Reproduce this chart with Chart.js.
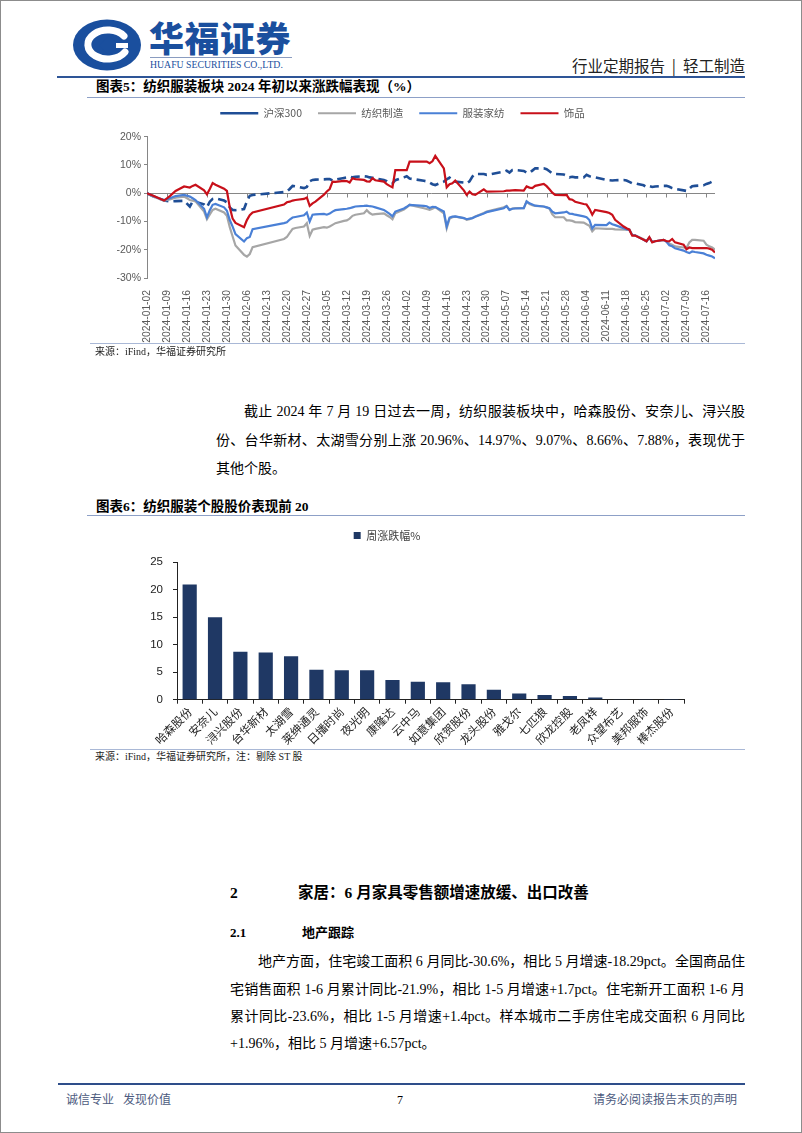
<!DOCTYPE html>
<html><head><meta charset="utf-8">
<script src="https://cdn.jsdelivr.net/npm/chart.js@4.4.1/dist/chart.umd.min.js"></script>
<style>
html,body{margin:0;padding:0;background:#fff;}
body{width:802px;height:1133px;position:relative;overflow:hidden;font-family:'Liberation Serif','Noto Sans CJK SC',serif;color:#000;}
.abs{position:absolute;white-space:nowrap;}
.hl{position:absolute;}
.jl{position:absolute;white-space:nowrap;text-align:justify;text-align-last:justify;font-size:14px;line-height:16px;height:16px;overflow:visible;}
.ll{position:absolute;white-space:nowrap;font-size:14px;line-height:16px;}
.title{font-family:'Liberation Serif','Noto Sans CJK SC';font-weight:700;font-size:13.5px;line-height:16px;}
.src{font-size:10px;line-height:12px;color:#222;}
</style></head>
<body>
<div class="hl" style="left:0;top:0;width:802px;height:1133px;box-sizing:border-box;border:1px solid #8c8c8c;"></div>

<!-- header -->
<svg class="abs" style="left:72px;top:19px" width="70" height="52" viewBox="0 0 70 52">
  <ellipse cx="35" cy="26" rx="34" ry="25.5" fill="#1a4f9e"/>
  <path d="M52,17 A20,14.5 0 1 0 53,33" fill="none" stroke="#fff" stroke-width="7" stroke-linecap="round"/>
  <polygon points="37,17 47,26.5 37,36 27,26.5" fill="#1a4f9e"/>
  <rect x="44" y="24" width="12" height="5" fill="#fff"/>
</svg>
<div class="abs" style="left:149px;top:16px;font-family:'Noto Sans CJK SC';font-weight:900;font-size:35px;line-height:42px;color:#1a4f9e;letter-spacing:0.5px;">华福证券</div>
<div class="hl" style="left:150px;top:57px;width:142px;height:1px;background:#8a9cc0;"></div>
<div class="abs" style="left:150px;top:59px;font-family:'Liberation Serif';font-size:10.5px;line-height:12px;color:#1a4f9e;transform:scaleX(0.93);transform-origin:left;">HUAFU SECURITIES CO.,LTD.</div>
<div class="abs" style="right:57px;top:55px;font-family:'Noto Sans CJK SC';font-size:15.5px;line-height:20px;color:#222;">行业定期报告&nbsp;&nbsp;|&nbsp;&nbsp;轻工制造</div>
<div class="hl" style="left:57px;top:75.5px;width:688px;height:2.5px;background:#2e5597;"></div>

<!-- chart 1 -->
<div class="abs title" style="left:96px;top:79px;">图表5：纺织服装板块 2024 年初以来涨跌幅表现（%）</div>
<div class="hl" style="left:87px;top:96.5px;width:658px;height:1px;background:#8da0c7;"></div>
<div class="hl" style="left:90px;top:92px;width:655px;height:252px;"><canvas id="c1"></canvas></div>
<div class="hl" style="left:90px;top:342.5px;width:655px;height:1.5px;background:#a9b8d6;"></div>
<div class="abs src" style="left:95px;top:346px;">来源：iFind，华福证券研究所</div>

<!-- paragraph 1 -->
<div class="jl" style="left:244px;top:404px;width:501px;">截止 2024 年 7 月 19 日过去一周，纺织服装板块中，哈森股份、安奈儿、浔兴股</div>
<div class="jl" style="left:216px;top:433px;width:529px;">份、台华新材、太湖雪分别上涨 20.96%、14.97%、9.07%、8.66%、7.88%，表现优于</div>
<div class="ll" style="left:216px;top:461px;">其他个股。</div>

<!-- chart 2 -->
<div class="abs title" style="left:96px;top:499px;">图表6：纺织服装个股股价表现前 20</div>
<div class="hl" style="left:87px;top:515px;width:658px;height:1px;background:#8da0c7;"></div>
<div class="hl" style="left:90px;top:520px;width:655px;height:228px;"><canvas id="c2"></canvas></div>
<div class="hl" style="left:90px;top:748.5px;width:655px;height:1.5px;background:#a9b8d6;"></div>
<div class="abs src" style="left:95px;top:751px;">来源：iFind，华福证券研究所，注：剔除 ST 股</div>

<!-- section 2 -->
<div class="abs" style="left:230px;top:884px;font-weight:700;font-size:15.5px;line-height:18px;">2</div>
<div class="abs" style="left:298px;top:884px;font-family:'Liberation Serif','Noto Sans CJK SC';font-weight:700;font-size:15.5px;line-height:18px;">家居：6 月家具零售额增速放缓、出口改善</div>
<div class="abs" style="left:230px;top:925px;font-weight:700;font-size:13px;line-height:16px;">2.1</div>
<div class="abs" style="left:302px;top:925px;font-family:'Liberation Serif','Noto Sans CJK SC';font-weight:700;font-size:13px;line-height:16px;">地产跟踪</div>

<div class="jl" style="left:258px;top:954px;width:487px;">地产方面，住宅竣工面积 6 月同比-30.6%，相比 5 月增速-18.29pct。全国商品住</div>
<div class="jl" style="left:230px;top:982px;width:515px;">宅销售面积 1-6 月累计同比-21.9%，相比 1-5 月增速+1.7pct。住宅新开工面积 1-6 月</div>
<div class="jl" style="left:230px;top:1009px;width:515px;">累计同比-23.6%，相比 1-5 月增速+1.4pct。样本城市二手房住宅成交面积 6 月同比</div>
<div class="ll" style="left:230px;top:1036px;">+1.96%，相比 5 月增速+6.57pct。</div>

<!-- footer -->
<div class="hl" style="left:58px;top:1083px;width:687px;height:2px;background:#2e4e8a;"></div>
<div class="abs" style="left:66px;top:1092px;font-size:12px;line-height:16px;color:#4d5b80;">诚信专业&nbsp;&nbsp;&nbsp;发现价值</div>
<div class="abs" style="left:397px;top:1092px;font-size:12px;line-height:16px;color:#000;">7</div>
<div class="abs" style="right:65px;top:1092px;font-size:12px;line-height:16px;color:#4d5b80;">请务必阅读报告末页的声明</div>

<script>
// ---------- Chart 1 data ----------
const lineDates = ['01-02','01-04','01-08','01-10','01-12','01-15','01-17','01-18','01-19','01-22','01-23','01-24','01-25','01-26','01-29','01-30','01-31','02-01','02-02','02-05','02-06','02-07','02-08','02-19','02-20','02-21','02-22','02-23','02-26','02-27','02-28','02-29','03-01','03-04','03-05','03-06','03-07','03-08','03-11','03-12','03-13','03-14','03-15','03-18','03-19','03-20','03-21','03-22','03-25','03-26','03-27','03-28','03-29','04-01','04-02','04-03','04-08','04-09','04-10','04-11','04-12','04-15','04-16','04-17','04-18','04-19','04-22','04-23','04-24','04-25','04-26','04-29','04-30','05-06','05-07','05-08','05-09','05-10','05-13','05-14','05-15','05-16','05-17','05-20','05-21','05-22','05-23','05-24','05-27','05-28','05-29','05-30','05-31','06-03','06-04','06-05','06-06','06-07','06-11','06-12','06-13','06-14','06-17','06-18','06-19','06-20','06-21','06-24','06-25','06-26','06-27','06-28','07-01','07-02','07-03','07-04','07-05','07-08','07-09','07-10','07-11','07-12','07-15','07-16','07-17','07-18','07-19'];

const hs300 = [0,-1.0,-2.6,-2.9,-2.8,-2.7,-4.7,-2.9,-3.0,-4.0,-4.9,-3.0,-2.0,-1.8,-2.6,-3.2,-5.0,-5.9,-6.0,-5.6,-2.9,-0.9,-0.6,0.4,0.6,1.5,2.6,2.4,1.8,2.2,4.2,4.7,4.8,4.9,5.0,5.0,4.5,4.8,5.4,5.6,5.9,5.6,5.8,6.0,5.9,5.6,5.5,5.2,4.7,4.3,3.6,3.5,4.6,5.6,6.0,5.2,4.4,4.2,3.8,3.2,2.9,4.1,4.9,5.5,4.6,4.1,3.8,3.5,4.2,5.9,6.8,6.8,6.5,7.6,8.0,7.3,8.2,8.2,7.9,7.3,7.2,8.0,8.8,8.8,8.5,7.8,7.0,6.8,6.6,6.2,5.6,5.8,5.6,5.6,6.5,6.0,5.8,5.6,4.7,4.6,4.5,4.6,4.7,4.5,4.0,3.5,3.5,2.8,2.2,2.5,2.2,2.4,2.6,2.6,2.3,1.8,1.5,1.0,0.8,1.6,2.5,2.6,2.8,3.3,3.6,4.1,4.7];

const textile = [0,-1.2,-2.6,-2.2,-1.6,-1.2,-2.4,-2.6,-2.9,-6.5,-9.2,-7.5,-5.9,-5.5,-6.8,-8.0,-12.0,-15.3,-18.5,-21.8,-22.4,-21.5,-19.1,-16.2,-15.5,-14.0,-12.6,-12.3,-11.8,-10.6,-15.1,-12.9,-12.6,-12.0,-12.2,-11.8,-11.2,-10.6,-9.8,-9.6,-9.0,-8.0,-7.6,-7.1,-6.0,-7.0,-7.6,-7.4,-7.1,-7.8,-8.4,-9.2,-7.1,-5.8,-5.0,-4.1,-5.3,-5.6,-5.9,-5.5,-4.9,-7.1,-12.4,-9.0,-8.5,-8.3,-8.8,-9.4,-9.2,-8.8,-8.2,-7.0,-6.5,-5.0,-4.5,-5.9,-5.4,-5.3,-5.3,-2.9,-3.8,-4.2,-4.5,-4.7,-5.0,-5.5,-7.5,-8.5,-8.5,-9.6,-9.6,-9.8,-10.2,-10.4,-11.0,-11.5,-13.5,-12.4,-12.6,-12.6,-12.6,-12.8,-12.9,-12.9,-12.9,-14.8,-14.9,-16.3,-17.0,-15.7,-17.2,-17.0,-16.5,-17.0,-17.8,-18.2,-18.8,-19.2,-19.4,-17.4,-16.5,-16.5,-16.8,-18.2,-18.8,-19.2,-20.0];

const apparel = [0,-1.0,-2.4,-1.8,-1.0,-0.6,-1.2,-1.8,-2.4,-5.5,-8.5,-6.0,-4.1,-3.8,-5.0,-6.2,-9.5,-11.8,-14.5,-17.1,-15.9,-15.5,-12.7,-10.6,-10.3,-9.3,-8.6,-8.4,-7.8,-6.8,-10.0,-7.6,-7.5,-7.3,-7.6,-7.2,-6.5,-6.0,-5.6,-5.5,-5.3,-5.0,-4.7,-4.5,-4.4,-4.6,-4.7,-5.0,-5.9,-6.6,-7.3,-8.2,-6.5,-5.4,-4.8,-4.1,-4.5,-4.6,-5.2,-4.8,-4.9,-6.5,-11.8,-8.6,-8.3,-8.2,-8.8,-9.2,-9.0,-8.8,-8.3,-7.2,-6.7,-5.3,-4.6,-5.9,-5.5,-5.4,-5.3,-2.9,-3.6,-4.0,-4.4,-4.7,-5.0,-5.3,-6.5,-7.1,-6.8,-6.5,-7.2,-7.3,-7.6,-8.2,-8.5,-9.5,-12.5,-11.2,-11.3,-10.4,-11.0,-11.3,-12.4,-12.8,-12.9,-14.8,-14.9,-16.5,-17.0,-15.7,-17.2,-17.0,-16.5,-17.2,-18.4,-18.8,-19.5,-20.3,-20.8,-21.2,-20.6,-20.8,-21.3,-21.8,-22.1,-22.4,-23.0];

const jewelry = [0,-0.8,-2.6,-1.0,0.8,2.4,2.0,2.6,3.0,1.0,-0.4,1.5,3.6,3.0,1.6,0.8,-5.0,-9.0,-10.5,-12.0,-9.5,-7.8,-6.8,-4.0,-3.2,-3.0,-2.6,-2.4,-2.0,-1.5,-4.5,-3.6,-3.0,-0.5,0.6,1.5,4.1,4.0,4.4,4.3,3.8,5.3,5.0,4.7,4.2,4.1,5.3,4.6,4.1,3.2,2.6,2.1,8.2,8.2,8.2,11.2,11.2,11.2,10.6,11.3,13.2,8.8,2.1,3.2,3.5,4.5,1.0,-0.6,0.6,-0.4,-0.6,1.4,0.6,0.7,0.9,0.9,1.0,1.1,0.9,2.4,2.0,1.8,2.6,3.3,2.5,1.4,0.2,-0.6,-0.7,-0.6,-2.1,-2.3,-3.0,-3.8,-4.0,-5.5,-7.6,-5.9,-6.7,-7.0,-7.6,-9.4,-11.8,-12.4,-12.9,-15.0,-15.0,-16.5,-17.0,-15.5,-17.4,-17.0,-16.5,-17.0,-17.0,-16.2,-17.4,-18.2,-19.8,-19.2,-19.4,-19.4,-19.4,-19.4,-19.6,-20.0,-21.0];

const seriesNames = ['沪深300','纺织制造','服装家纺','饰品'];
const xTickLabels = ['2024-01-02','2024-01-09','2024-01-16','2024-01-23','2024-01-30','2024-02-06','2024-02-13','2024-02-20','2024-02-27','2024-03-05','2024-03-12','2024-03-19','2024-03-26','2024-04-02','2024-04-09','2024-04-16','2024-04-23','2024-04-30','2024-05-07','2024-05-14','2024-05-21','2024-05-28','2024-06-04','2024-06-11','2024-06-18','2024-06-25','2024-07-02','2024-07-09','2024-07-16'];
const yTickValues1 = [20,15,10,5,0,-5,-10,-15,-20,-25,-30];

// ---------- Chart 2 data ----------
const stockNames = ['哈森股份','安奈儿','浔兴股份','台华新材','太湖雪','莱绅通灵','日播时尚','夜光明','康隆达','云中马','如意集团','欣贺股份','龙头股份','雅戈尔','七匹狼','欣龙控股','老凤祥','众望布艺','美邦服饰','棒杰股份'];
const weeklyChange = [20.96,14.97,8.7,8.6,7.88,5.46,5.34,5.34,3.58,3.28,3.16,2.79,1.82,1.15,0.85,0.67,0.42,0.03,0.02,0.01];
const seriesName2 = '周涨跌幅%';

// ---------- helpers ----------
function dayIndex(s){
  const p = s.split('-').map(Number);
  return Math.round((Date.UTC(p[0],p[1]-1,p[2]) - Date.UTC(2024,0,2))/86400000);
}
function pts(vals){ return lineDates.map((d,i)=>({x: dayIndex('2024-'+d), y: vals[i]})); }
const lastDay = dayIndex('2024-' + lineDates[lineDates.length-1]);

const zeroTicks = {
  id: 'zeroTicks',
  beforeDatasetsDraw(chart){
    const {ctx, scales} = chart; const x = scales.x, y = scales.y;
    const y0 = Math.round(y.getPixelForValue(0)) + 0.5;
    ctx.save(); ctx.strokeStyle = '#868686'; ctx.lineWidth = 1;
    x.ticks.forEach(t => { const px = Math.round(x.getPixelForValue(t.value)) + 0.5;
      ctx.beginPath(); ctx.moveTo(px, y0); ctx.lineTo(px, y0 + 4); ctx.stroke(); });
    ctx.restore();
  }
};

Chart.defaults.animation = false;

new Chart(document.getElementById('c1'), {
  type: 'line',
  data: { datasets: [
    { label: seriesNames[0], data: pts(hs300), borderColor: '#1f4e96', backgroundColor: '#1f4e96', borderWidth: 2.6, borderDash: [9,5], pointRadius: 0, tension: 0, order: 4 },
    { label: seriesNames[1], data: pts(textile), borderColor: '#a6a6a6', backgroundColor: '#a6a6a6', borderWidth: 2.2, pointRadius: 0, tension: 0, order: 3 },
    { label: seriesNames[2], data: pts(apparel), borderColor: '#4a80d6', backgroundColor: '#4a80d6', borderWidth: 2.2, pointRadius: 0, tension: 0, order: 2 },
    { label: seriesNames[3], data: pts(jewelry), borderColor: '#c8101a', backgroundColor: '#c8101a', borderWidth: 2.2, pointRadius: 0, tension: 0, order: 1 }
  ]},
  options: {
    responsive: true, maintainAspectRatio: false,
    layout: { padding: { left: 0, right: 30, top: 0, bottom: 0 } },
    plugins: {
      legend: { position: 'top', labels: { usePointStyle: true, pointStyle: 'line', pointStyleWidth: 38, padding: 16,
        font: { family: "'Noto Sans CJK SC'", size: 10.5 }, color: '#595959',
        sort: (a,b) => a.datasetIndex - b.datasetIndex } },
      title: { display: true, text: ' ', weight: 500, font: { size: 1 }, padding: { top: 0, bottom: 7 } },
      tooltip: { enabled: false }
    },
    scales: {
      x: { type: 'linear', min: 0, max: lastDay,
        grid: { display: false }, border: { display: false },
        afterBuildTicks: s => { s.ticks = xTickLabels.map(l => ({ value: dayIndex(l) })); },
        afterFit: s => { s.height = 66; },
        ticks: { autoSkip: false, minRotation: 90, maxRotation: 90, padding: 4,
          font: { family: "'Liberation Sans'", size: 10.3 }, color: '#595959',
          callback: (v, i) => xTickLabels[i] } },
      y: { min: -30, max: 20,
        afterBuildTicks: s => { s.ticks = yTickValues1.map(v => ({ value: v })); },
        afterFit: s => { s.width = 57; },
        border: { display: true, color: '#868686' },
        grid: { drawTicks: true, tickLength: 3, tickColor: '#868686',
          color: c => (c.tick && c.tick.value === 0) ? '#868686' : 'rgba(0,0,0,0)' },
        ticks: { padding: 3, font: { family: "'Liberation Sans'", size: 10.5 }, color: '#595959',
          callback: v => v + '%' } }
    }
  },
  plugins: [zeroTicks]
});

new Chart(document.getElementById('c2'), {
  type: 'bar',
  data: { labels: stockNames, datasets: [
    { label: seriesName2, data: weeklyChange, backgroundColor: '#1f3864', borderWidth: 0, barPercentage: 0.56, categoryPercentage: 1 }
  ]},
  options: {
    responsive: true, maintainAspectRatio: false,
    layout: { padding: { left: 0, right: 61, top: 0, bottom: 0 } },
    plugins: {
      legend: { position: 'top', labels: { boxWidth: 7, boxHeight: 7, padding: 10,
        font: { family: "'Noto Sans CJK SC'", size: 11 }, color: '#404040' } },
      title: { display: true, text: ' ', weight: 500, font: { size: 1 }, padding: { top: 0, bottom: 10 } },
      tooltip: { enabled: false }
    },
    scales: {
      x: { grid: { drawOnChartArea: false, drawTicks: true, tickLength: 4, color: '#222', offset: true },
        border: { color: '#222' },
        ticks: { autoSkip: false, minRotation: 45, maxRotation: 45, padding: 1,
          font: { family: "'Noto Sans CJK SC'", size: 11.5 }, color: '#222' } },
      y: { min: 0, max: 25,
        afterFit: s => { s.width = 87; },
        grid: { drawOnChartArea: false, drawTicks: true, tickLength: 4, color: '#222' },
        border: { color: '#222' },
        ticks: { stepSize: 5, padding: 10, font: { family: "'Liberation Sans'", size: 11.5 }, color: '#222' } }
    }
  }
});
</script>
</body></html>
